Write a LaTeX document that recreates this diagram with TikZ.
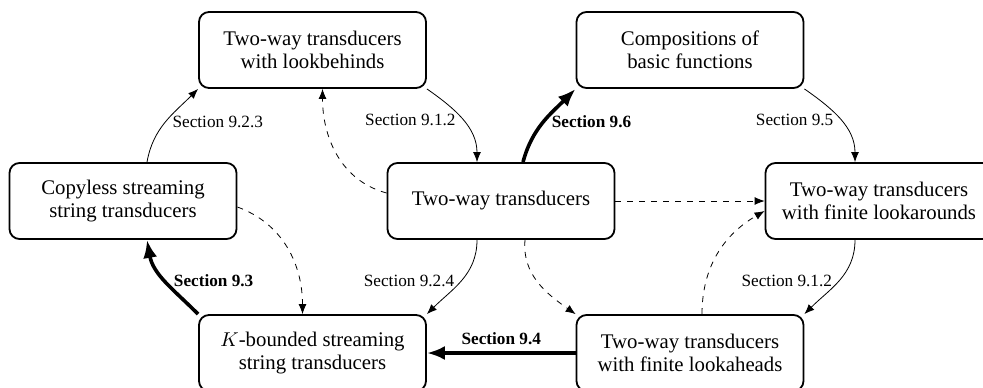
\documentclass[tikz,border=0pt]{standalone}
\usepackage{fontspec}
\setmainfont{Liberation Serif}
\usetikzlibrary{arrows.meta}

\begin{document}
\begin{tikzpicture}[x=0.5pt,y=0.5pt,>={Latex[length=5pt,width=4pt]},
  box/.style={draw,line width=0.9pt,rounded corners=5pt,minimum width=113.5pt,minimum height=38pt,align=center,font=\fontsize{10.4}{11.5}\selectfont},
  lbl/.style={font=\fontsize{8.6}{10}\selectfont},
  lblb/.style={font=\fontsize{8.6}{10}\selectfont\bfseries},
  thickarr/.style={line width=1.8pt,-{Latex[length=9pt,width=7pt]}}]
  \useasboundingbox (0,0) rectangle (983,387);
  \node[box] (twlb) at (312.5,337) {Two-way transducers\\with lookbehinds};
  \node[box] (comp) at (690,337) {Compositions of\\basic functions};
  \node[box] (cssst) at (123,186) {Copyless streaming\\string transducers};
  \node[box] (tw) at (501,186) {Two-way transducers};
  \node[box] (twla) at (879,186) {Two-way transducers\\with finite lookarounds};
  \node[box] (kbsst) at (312.5,34) {$K$-bounded streaming\\string transducers};
  \node[box] (twlh) at (690,34) {Two-way transducers\\with finite lookaheads};
  \draw[->] ([xshift=12pt]cssst.north) to[out=80,in=225] node[lbl,midway,right] {Section 9.2.3} (twlb.south west);
  \draw[->] (twlb.south east) to[out=-35,in=90] node[lbl,midway,left] {Section 9.1.2} ([xshift=-12pt]tw.north);
  \draw[->,dashed] ([yshift=4pt]tw.west) to[out=165,in=-90] ([xshift=5pt]twlb.south);
  \draw[thickarr] ([xshift=11pt]tw.north) to[out=75,in=225] node[lblb,midway,right] {Section 9.6} (comp.south west);
  \draw[->] (comp.south east) to[out=-35,in=90] node[lbl,midway,left] {Section 9.5} ([xshift=-12pt]twla.north);
  \draw[->,dashed] (tw.east) -- (twla.west);
  \draw[->,dashed] ([xshift=6pt]twlh.north) to[out=90,in=210] ([yshift=-5pt]twla.west);
  \draw[->] ([xshift=-12pt]twla.south) to[out=-90,in=45] node[lbl,midway,left] {Section 9.1.2} (twlh.north east);
  \draw[->,dashed] ([xshift=12pt]tw.south) to[out=-95,in=145] (twlh.north west);
  \draw[thickarr] (twlh.west) -- node[lblb,above] {Section 9.4} (kbsst.east);
  \draw[->] ([xshift=-12pt]tw.south) to[out=-90,in=45] node[lbl,midway,left] {Section 9.2.4} (kbsst.north east);
  \draw[thickarr] (kbsst.north west) to[out=135,in=-80] node[lblb,midway,right] {Section 9.3} ([xshift=12pt]cssst.south);
  \draw[->,dashed] ([yshift=-3pt]cssst.east) to[out=-20,in=90] ([xshift=-5pt]kbsst.north);
\end{tikzpicture}
\end{document}
